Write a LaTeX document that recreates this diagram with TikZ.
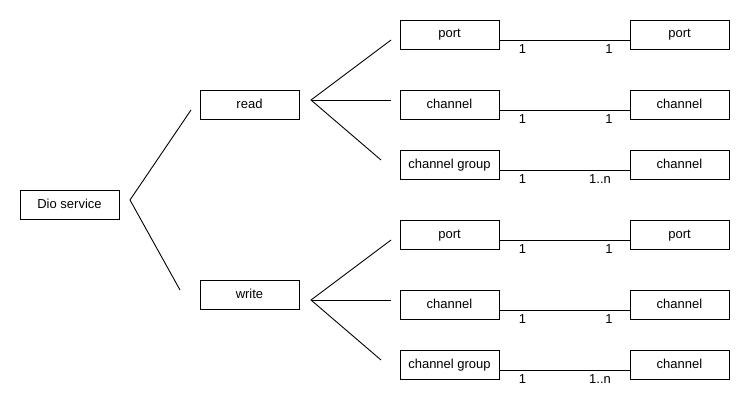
\documentclass[tikz,border=0pt]{standalone}
\usepackage{fontspec}
\setmainfont{Liberation Sans}
\usetikzlibrary{calc}
\begin{document}
\begin{tikzpicture}[x=1pt,y=-1pt,line width=0.9pt,
  every node/.style={font=\fontsize{13}{15}\selectfont, text height=9.5pt, text depth=2.5pt, inner sep=0pt},
  box/.style={draw, line width=0.9pt, minimum width=99pt, minimum height=29pt},
  lbl/.style={anchor=center}]
\useasboundingbox (0,0) rectangle (750,420);
% main boxes
\node[box] (dio) at (69.5,204.5) {Dio service};
\node[box] (read) at (249.5,104.5) {read};
\node[box] (write) at (249.5,294.5) {write};
% left column
\node[box] (rp) at (449.5,34.5) {port};
\node[box] (rc) at (449.5,104.5) {channel};
\node[box] (rg) at (449.5,164.5) {channel group};
\node[box] (wp) at (449.5,234.5) {port};
\node[box] (wc) at (449.5,304.5) {channel};
\node[box] (wg) at (449.5,364.5) {channel group};
% right column
\node[box] (rp2) at (679.5,34.5) {port};
\node[box] (rc2) at (679.5,104.5) {channel};
\node[box] (rg2) at (679.5,164.5) {channel};
\node[box] (wp2) at (679.5,234.5) {port};
\node[box] (wc2) at (679.5,304.5) {channel};
\node[box] (wg2) at (679.5,364.5) {channel};
% fan coordinates
\coordinate (d0) at (130,200);
\coordinate (d1) at (191,110);
\coordinate (d2) at (180,290);
\coordinate (r0) at (311,100);
\coordinate (r1) at (391,40);
\coordinate (r2) at (391,100);
\coordinate (r3) at (381,160);
\coordinate (w0) at (311,300);
\coordinate (w1) at (391,240);
\coordinate (w2) at (391,300);
\coordinate (w3) at (381,360);
\draw (d1) -- (d0) -- (d2);
\draw (r1) -- (r0) -- (r3);
\draw (r0) -- (r2);
\draw (w1) -- (w0) -- (w3);
\draw (w0) -- (w2);
% connectors
\foreach \a/\b in {rp/rp2, rc/rc2, rg/rg2, wp/wp2, wc/wc2, wg/wg2}{
  \draw ($(\a.east)+(0,5.5)$) -- ($(\b.west)+(0,5.5)$);
}
% multiplicity labels
\node[lbl] (l1) at (522.5,50) {1};
\node[lbl] (l2) at (609,50) {1};
\node[lbl] (l3) at (522.5,120) {1};
\node[lbl] (l4) at (609,120) {1};
\node[lbl] (l5) at (522.5,180) {1};
\node[lbl] (l6) at (600,180) {1..n};
\node[lbl] (l7) at (522.5,250) {1};
\node[lbl] (l8) at (609,250) {1};
\node[lbl] (l9) at (522.5,320) {1};
\node[lbl] (l10) at (609,320) {1};
\node[lbl] (l11) at (522.5,380) {1};
\node[lbl] (l12) at (600,380) {1..n};
\end{tikzpicture}
\end{document}
